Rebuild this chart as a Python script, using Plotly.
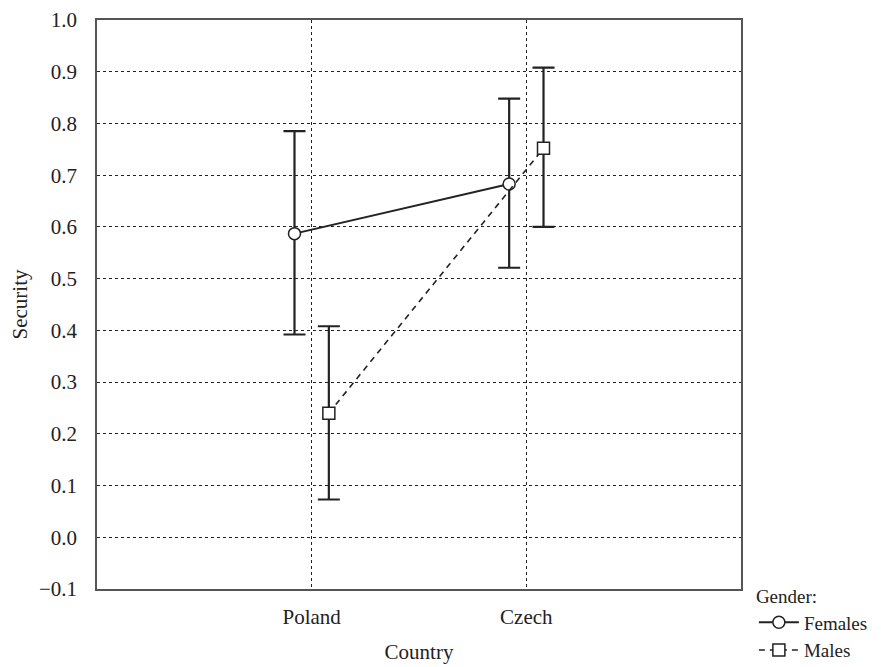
import plotly.graph_objects as go

countries = ["Poland", "Czech"]
cat_pos = [1, 2]
females_mean = [0.587, 0.683]
females_low = [0.392, 0.521]
females_high = [0.785, 0.848]
males_mean = [0.240, 0.752]
males_low = [0.073, 0.600]
males_high = [0.408, 0.908]
y_ticks = [-0.1, 0.0, 0.1, 0.2, 0.3, 0.4, 0.5, 0.6, 0.7, 0.8, 0.9, 1.0]

off = 0.08
fx = [p - off for p in cat_pos]
mx = [p + off for p in cat_pos]

fig = go.Figure()
fig.add_trace(go.Scatter(
    x=fx, y=females_mean, name="Females", mode="lines+markers",
    line=dict(color="#222", width=2),
    marker=dict(symbol="circle", size=12, color="white", line=dict(color="#222", width=1.5)),
    error_y=dict(type="data", symmetric=False,
                 array=[h - m for h, m in zip(females_high, females_mean)],
                 arrayminus=[m - l for m, l in zip(females_mean, females_low)],
                 color="#222", thickness=2.2, width=11),
))
fig.add_trace(go.Scatter(
    x=mx, y=males_mean, name="Males", mode="lines+markers",
    line=dict(color="#222", width=1.6, dash="6px,5px"),
    marker=dict(symbol="square", size=12, color="white", line=dict(color="#222", width=1.5)),
    error_y=dict(type="data", symmetric=False,
                 array=[h - m for h, m in zip(males_high, males_mean)],
                 arrayminus=[m - l for m, l in zip(males_mean, males_low)],
                 color="#222", thickness=2.2, width=11),
))

font_family = "Liberation Serif, Times New Roman, serif"
fs = 21
fig.update_layout(
    width=873, height=659,
    margin=dict(l=89, r=140, t=12, b=78, autoexpand=False),
    paper_bgcolor="white", plot_bgcolor="white",
    font=dict(family=font_family, size=fs, color="#222"),
    showlegend=True,
    legend=dict(title=dict(text="Gender:", font=dict(size=19)),
                x=1.02, xanchor="left", y=0.018, yanchor="top",
                font=dict(size=19), tracegroupgap=0, itemwidth=40,
                bgcolor="rgba(0,0,0,0)"),
    xaxis=dict(range=[0, 3], tickvals=cat_pos, ticktext=countries,
               showgrid=True, gridcolor="#222", griddash="3px,3px", gridwidth=1,
               showline=True, linecolor="#555", linewidth=1.5, mirror=True,
               zeroline=False, ticks="", ticklabelstandoff=8,
               title=dict(text="Country", font=dict(size=fs), standoff=16),
               tickfont=dict(size=fs)),
    yaxis=dict(range=[-0.1, 1.0], tickvals=y_ticks,
               ticktext=[("\u22120.1" if v < 0 else f"{v:.1f}") for v in y_ticks],
               showgrid=True, gridcolor="#222", griddash="3px,3px", gridwidth=1,
               showline=True, linecolor="#555", linewidth=1.5, mirror=True,
               zeroline=False, ticks="", ticklabelstandoff=14,
               ticklabeloverflow="allow",
               title=dict(text="Security", font=dict(size=fs), standoff=15),
               tickfont=dict(size=fs)),
)

fig.write_html("out.html")
